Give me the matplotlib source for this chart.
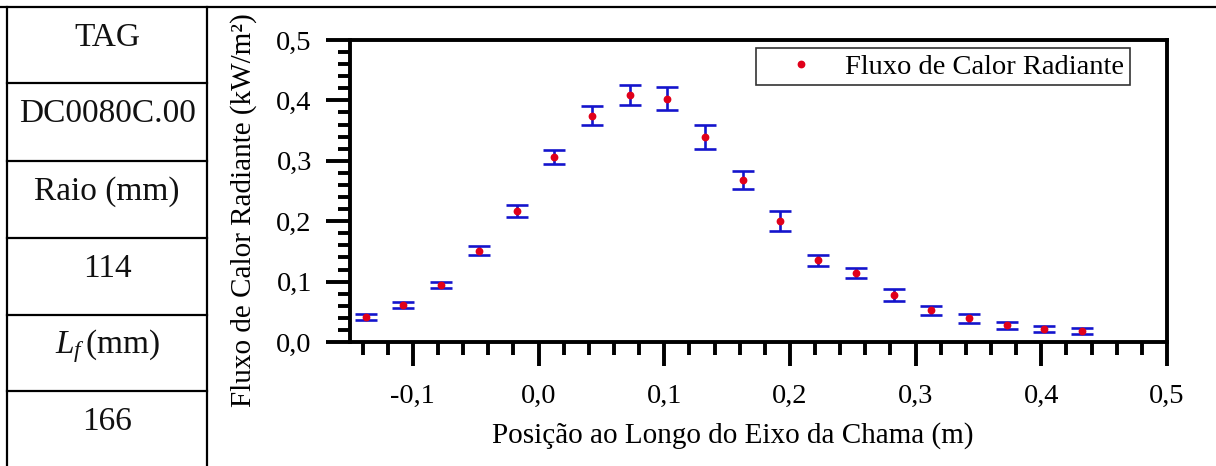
import matplotlib
matplotlib.use("Agg")
import matplotlib.pyplot as plt
from matplotlib.lines import Line2D
from matplotlib.ticker import MultipleLocator, FuncFormatter

plt.rcParams['font.family'] = ['Liberation Serif', 'DejaVu Serif']
plt.rcParams['mathtext.fontset'] = 'custom'
plt.rcParams['mathtext.rm'] = 'Liberation Serif'
plt.rcParams['mathtext.it'] = 'Liberation Serif:italic'

# Measurement positions along the flame axis (m)
position = [-0.1375, -0.1075, -0.0775, -0.0475, -0.0175, 0.0125, 0.0425, 0.0725,
            0.1025, 0.1325, 0.1625, 0.1925, 0.2225, 0.2525, 0.2825, 0.3125,
            0.3425, 0.3725, 0.4025, 0.4325]
# Radiant heat flux (kW/m2) and its uncertainty
flux = [0.041, 0.061, 0.094, 0.151, 0.217, 0.307, 0.375, 0.409, 0.403, 0.339,
        0.268, 0.200, 0.135, 0.114, 0.078, 0.0525, 0.039, 0.028, 0.0215, 0.018]
flux_err = [0.0047, 0.0047, 0.0052, 0.0072, 0.0094, 0.0116, 0.0157, 0.016,
            0.0185, 0.02, 0.015, 0.0166, 0.0097, 0.0083, 0.0094, 0.007, 0.007,
            0.0058, 0.0044, 0.0044]

# Side table entries
table_rows = ["TAG", "DC0080C.00", "Raio (mm)", "114", r"$L_f\,$(mm)", "166"]

W, H = 1216, 466
fig = plt.figure(figsize=(W / 100, H / 100), dpi=100)

def fx(px):
    return px / W

def fy(py):
    return 1 - py / H

# Table frame
lw_tab = 1.6
fig.add_artist(Line2D([0, 1], [fy(7), fy(7)], transform=fig.transFigure, color='black', lw=lw_tab))
fig.add_artist(Line2D([fx(7), fx(7)], [fy(7), 0], transform=fig.transFigure, color='black', lw=lw_tab))
fig.add_artist(Line2D([fx(207), fx(207)], [fy(7), 0], transform=fig.transFigure, color='black', lw=lw_tab))
row_tops = [7, 83, 161, 238, 315, 391]
for yt in row_tops[1:]:
    fig.add_artist(Line2D([fx(7), fx(207)], [fy(yt), fy(yt)], transform=fig.transFigure,
                          color='black', lw=lw_tab))
for yt, txt in zip(row_tops, table_rows):
    fig.text(fx(107), fy(yt + 31), txt, ha='center', va='center', fontsize=24, color='#111111')

# Chart
ax = fig.add_axes([fx(350), fy(342), fx(1167) - fx(350), fy(40) - fy(342)])
ax.errorbar(position, flux, yerr=flux_err, fmt='none', ecolor='#1414cc',
            elinewidth=1.9, capsize=8, capthick=1.9, zorder=2)
ax.plot(position, flux, 'o', color='#e0001a', markersize=4.6, ls='none',
        label='Fluxo de Calor Radiante', zorder=3)

ax.set_xlim(-0.15, 0.5)
ax.set_ylim(0.0, 0.5)
ax.xaxis.set_major_locator(MultipleLocator(0.1))
ax.xaxis.set_minor_locator(MultipleLocator(0.02))
ax.yaxis.set_major_locator(MultipleLocator(0.1))
ax.yaxis.set_minor_locator(MultipleLocator(0.02))

def comma(v, pos):
    s = f"{v:.1f}"
    if s == "-0.0":
        s = "0.0"
    return s.replace('.', ',')

ax.xaxis.set_major_formatter(FuncFormatter(comma))
ax.yaxis.set_major_formatter(FuncFormatter(comma))

for s in ax.spines.values():
    s.set_linewidth(2.8)
ax.tick_params(which='both', direction='out', top=False, right=False, width=2.8,
               labelsize=20.5, colors='black')
ax.tick_params(which='major', length=17.5, pad=13)
ax.tick_params(which='minor', length=9)
ax.tick_params(axis='y', which='major', pad=10)

ax.set_xlabel("Posição ao Longo do Eixo da Chama (m)", fontsize=21)
ax.set_ylabel("Fluxo de Calor Radiante (kW/m²)", fontsize=21)
ax.xaxis.set_label_coords(0.469, -0.265)
ax.yaxis.set_label_coords(-0.114, 0.437)

leg = ax.legend(loc='upper right', bbox_to_anchor=(0.9547, 0.9735), borderaxespad=0,
                fontsize=20.5, frameon=True, fancybox=False, handlelength=2.8,
                handletextpad=0.15, borderpad=0.2, markerscale=1.0)
leg.get_frame().set_edgecolor('black')
leg.get_frame().set_linewidth(1.2)

fig.savefig("out.png", dpi=100)
